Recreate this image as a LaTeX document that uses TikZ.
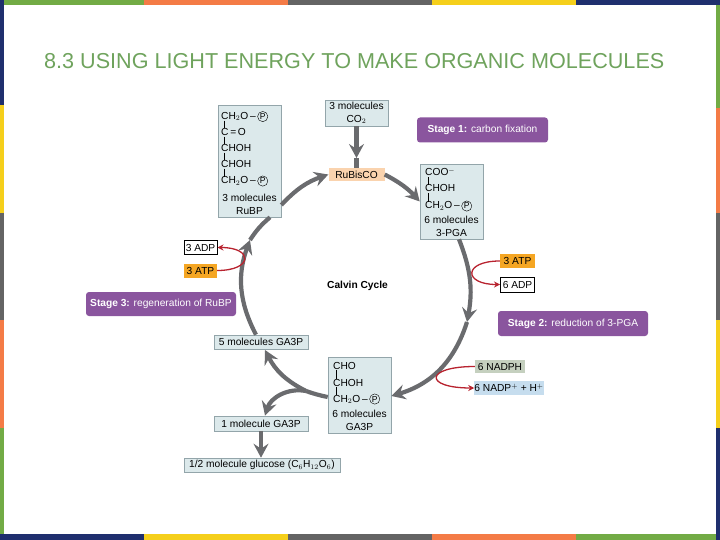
\documentclass[tikz,border=0pt]{standalone}
\usepackage{fontspec}
\setmainfont{Liberation Sans}
\usepackage{xcolor}
\usetikzlibrary{arrows.meta}
\definecolor{barGreen}{HTML}{72AB45}
\definecolor{barOrange}{HTML}{F47B46}
\definecolor{barGray}{HTML}{646464}
\definecolor{barYellow}{HTML}{F5CF1B}
\definecolor{barNavy}{HTML}{1F2F6E}
\definecolor{titleGreen}{HTML}{6FA35D}
\definecolor{molFill}{HTML}{DCE9EB}
\definecolor{molEdge}{HTML}{93A5AA}
\definecolor{stageFill}{HTML}{8A559E}
\definecolor{cycleGray}{HTML}{6A6B6E}
\definecolor{redArrow}{HTML}{B8232F}
\definecolor{tagOrange}{HTML}{F5A623}
\definecolor{tagPeach}{HTML}{FAD3AE}
\definecolor{tagSage}{HTML}{C5D0BF}
\definecolor{tagBlue}{HTML}{C6DDEE}
\newcommand{\phos}{\tikz[baseline=(pp.base)]\node[circle,draw,line width=0.4pt,inner sep=0.7pt,font=\fontsize{8.6}{9}\selectfont] (pp) {P};}
\begin{document}
\begin{tikzpicture}[x=1pt,y=-1pt,font=\fontsize{10.2}{13}\selectfont,
  mol/.style={rectangle,draw=molEdge,fill=molFill,line width=0.6pt,inner sep=0pt,align=center},
  chem/.style={inner sep=0pt,anchor=west,text height=7pt,text depth=1pt},
  bond/.style={line width=0.5pt},
  stagebox/.style={rectangle,rounded corners=3pt,fill=stageFill,text=white,inner sep=0pt,minimum height=25pt},
  tag/.style={rectangle,inner sep=0pt},
  cyc/.style={draw=cycleGray,line width=4.2pt},
  cycarrow/.style={cyc,-{Stealth[length=14pt,width=15pt,inset=5pt]}},
  redarc/.style={draw=redArrow,line width=1.3pt,-{Stealth[length=6pt,width=6pt]}}]
\useasboundingbox (0,0) rectangle (720,540);
% --- frame ---
\foreach \col [count=\i from 0] in {barGreen,barOrange,barGray,barYellow,barNavy}
  \fill[\col] ({144*\i},0) rectangle ({144*\i+144},5);
\foreach \col [count=\i from 0] in {barNavy,barYellow,barGray,barOrange,barGreen}
  \fill[\col] ({144*\i},534) rectangle ({144*\i+144},540);
\foreach \col/\ya/\yb in {barNavy/0/105,barYellow/105/213,barGray/213/320,barOrange/320/428,barGreen/428/534}
  \fill[\col] (0,\ya) rectangle (4,\yb);
\foreach \col/\ya/\yb in {barGreen/5/108,barOrange/108/213,barGray/213/320,barYellow/320/428,barNavy/428/540}
  \fill[\col] (716,\ya) rectangle (720,\yb);
\node[anchor=base west,inner sep=0pt,text=titleGreen,font=\fontsize{21.6}{24}\selectfont] (title) at (44,68.5)
  {8.3 USING LIGHT ENERGY TO MAKE ORGANIC MOLECULES};
% --- boxes ---
\node[mol,minimum width=63pt,minimum height=112pt] (rubp) at (249.5,161) {};
\node[chem] (rubpa) at (221,116.5) {CH$_2$O\,--\,\phos};
\node[chem] (rubpb) at (221,132.5) {C\,=\,O};
\node[chem] (rubpc) at (221,148.5) {CHOH};
\node[chem] (rubpd) at (221,164.5) {CHOH};
\node[chem] (rubpe) at (221,181) {CH$_2$O\,--\,\phos};
\foreach \ra/\rb in {rubpa/rubpb,rubpb/rubpc,rubpc/rubpd,rubpd/rubpe}
  \draw[bond] ([xshift=3pt]\ra.south west) -- ([xshift=3pt]\rb.north west);
\node[inner sep=0pt,align=center] (rubpname) at (249.5,204) {3 molecules\\RuBP};
\node[mol,minimum width=63pt,minimum height=26pt] (co) at (356.5,113) {3 molecules\\CO$_2$};
\node[tag,fill=tagPeach,minimum width=56pt,minimum height=13pt] (rubisco) at (356.5,174.5) {RuBisCO};
\node[mol,minimum width=63pt,minimum height=75pt] (pga) at (451.5,201.5) {};
\node[chem] (pgaa) at (425,173) {COO$^-$};
\node[chem] (pgab) at (425,189) {CHOH};
\node[chem] (pgac) at (425,206) {CH$_2$O\,--\,\phos};
\foreach \ra/\rb in {pgaa/pgab,pgab/pgac}
  \draw[bond] ([xshift=3pt]\ra.south west) -- ([xshift=3pt]\rb.north west);
\node[inner sep=0pt,align=center] (pganame) at (451.5,226) {6 molecules\\3-PGA};
\node[mol,minimum width=63pt,minimum height=76pt] (gap) at (359.5,395) {};
\node[chem] (gapa) at (333,366) {CHO};
\node[chem] (gapb) at (333,383) {CHOH};
\node[chem] (gapc) at (333,399) {CH$_2$O\,--\,\phos};
\foreach \ra/\rb in {gapa/gapb,gapb/gapc}
  \draw[bond] ([xshift=3pt]\ra.south west) -- ([xshift=3pt]\rb.north west);
\node[inner sep=0pt,align=center] (gapname) at (359.5,420) {6 molecules\\GA3P};
\node[mol,minimum width=94pt,minimum height=14pt] (five) at (261,342) {5 molecules GA3P};
\node[mol,minimum width=94pt,minimum height=15pt] (one) at (261,423.5) {1 molecule GA3P};
\node[mol,minimum width=156pt,minimum height=14pt] (gluc) at (262,465) {1/2 molecule glucose (C$_6$H$_{12}$O$_6$)};
% --- stages ---
\node[stagebox,minimum width=131pt] (stageone) at (482.5,130) {\textbf{Stage 1:} carbon fixation};
\node[stagebox,minimum width=150pt] (stagetwo) at (573,323.5) {\textbf{Stage 2:} reduction of 3-PGA};
\node[stagebox,minimum width=150pt,minimum height=24pt] (stagethree) at (161,304) {\textbf{Stage 3:} regeneration of RuBP};
\node[inner sep=0pt] (calvin) at (357.5,286) {\textbf{Calvin Cycle}};
% --- cofactors ---
\node[tag,draw=black,line width=1pt,fill=white,minimum width=33pt,minimum height=14pt] (adpl) at (200.5,247.5) {3 ADP};
\node[tag,fill=tagOrange,minimum width=33pt,minimum height=14pt] (atpl) at (200.5,270.5) {3 ATP};
\node[tag,fill=tagOrange,minimum width=35pt,minimum height=14pt] (atpr) at (517.5,261) {3 ATP};
\node[tag,draw=black,line width=1pt,fill=white,minimum width=34pt,minimum height=15pt] (adpr) at (517.5,284.5) {6 ADP};
\node[tag,fill=tagSage,minimum width=50pt,minimum height=13pt] (nadph) at (500,366.5) {6 NADPH};
\node[tag,fill=tagBlue,minimum width=68pt,minimum height=14pt] (nadp) at (509,388) {6 NADP$^+$ + H$^+$};
% --- cycle ---
\coordinate (midright) at (467,322);
\coordinate (midleft) at (250,240);
\coordinate (split) at (306,391);
\coordinate (cotip) at (356.5,158);
\draw[cycarrow] (co.south) -- (cotip);
\draw[cyc] (cotip) -- (rubisco.north);
\draw[cycarrow] (rubisco.east) to[bend left=10] (pga.west);
\draw[cycarrow] (pga.south -| 459,0) to[bend left=16] (midright);
\draw[cycarrow] (midright) to[bend left=28] (gap.east |- 0,396);
\draw[cyc] (gap.west |- 0,397) to[bend left=4] (split);
\draw[cycarrow] (split) to[bend left=18] (265,350);
\draw[cycarrow] (split) to[bend right=42] (one.north -| 265,0);
\draw[cycarrow] (five.north -| 256,0) to[bend left=24] (midleft);
\draw[cyc] (midleft) to[bend left=8] (rubp.south -| 270,0);
\draw[cycarrow] (rubp.east |- 0,205) to[bend left=14] (rubisco.west);
\draw[cycarrow] (one.south) -- (one.south |- gluc.north);
% --- red ---
\draw[redarc] (atpl.east) to[out=0,in=0,looseness=4] (adpl.east);
\draw[redarc] (atpr.west) to[out=180,in=180,looseness=4] (adpr.west);
\draw[redarc] (nadph.west) to[out=180,in=180,looseness=6] (nadp.west);
\end{tikzpicture}
\end{document}
